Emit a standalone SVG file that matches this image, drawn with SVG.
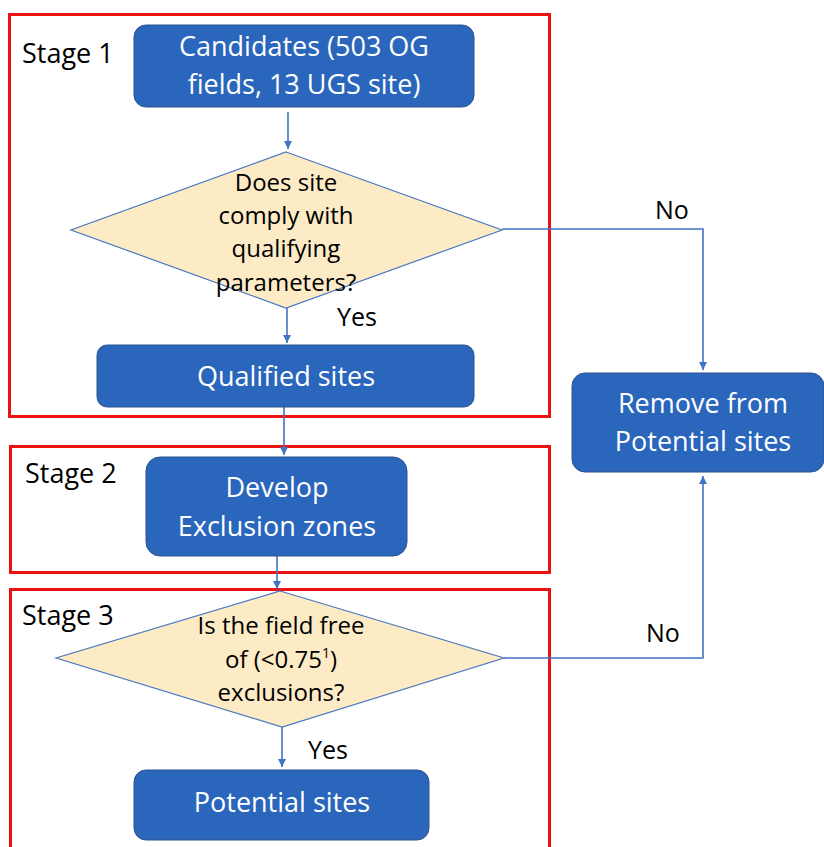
<svg xmlns="http://www.w3.org/2000/svg" width="824" height="847" viewBox="0 0 824 847">
<style>
.stage{fill:none;stroke:#EE1111;stroke-width:3}
.box{fill:#2A66BC;stroke:#2F528F;stroke-width:1}
.dia{fill:#FDEBC6;stroke:#4A78C0;stroke-width:1.2}
.wt{font-family:"Open Sans","Noto Sans",sans-serif;font-size:27px;fill:#FFFFFF;text-anchor:middle}
.bt{font-family:"Open Sans","Noto Sans",sans-serif;font-size:24px;fill:#000000;text-anchor:middle}
.lbl{font-family:"Open Sans","Noto Sans",sans-serif;font-size:25px;fill:#000000}
.stl{font-family:"Open Sans","Noto Sans",sans-serif;font-size:27px;fill:#000000}
.con{fill:none;stroke:#4472C4;stroke-width:1.6}
</style>
<defs>
<marker id="arr" markerWidth="10" markerHeight="10" refX="8" refY="4" orient="auto" markerUnits="userSpaceOnUse">
<path d="M0,0 L8,4 L0,8 Z" fill="#4472C4"/>
</marker>
</defs>
<rect width="824" height="847" fill="#FFFFFF"/>
<g id="stage1">
<rect class="stage" x="9.5" y="14.5" width="540" height="402"/>
<text class="stl" x="22" y="63">Stage 1</text>
</g>
<g id="stage2">
<rect class="stage" x="10.5" y="446.5" width="539" height="126"/>
<text class="stl" x="25" y="483">Stage 2</text>
</g>
<g id="stage3">
<rect class="stage" x="10.5" y="589.5" width="539" height="280"/>
<text class="stl" x="22" y="625">Stage 3</text>
</g>
<g id="connectors">
<path class="con" d="M288,112 L288,149" marker-end="url(#arr)"/>
<path class="con" d="M287,308 L287,343" marker-end="url(#arr)"/>
<path class="con" d="M502,229 L703,229 L703,370" marker-end="url(#arr)"/>
<path class="con" d="M284,407 L284,455" marker-end="url(#arr)"/>
<path class="con" d="M277,556 L277,589" marker-end="url(#arr)"/>
<path class="con" d="M282,727 L282,767" marker-end="url(#arr)"/>
<path class="con" d="M504,658 L703,658 L703,476" marker-end="url(#arr)"/>
<text class="lbl" x="655" y="219">No</text>
<text class="lbl" x="337" y="326">Yes</text>
<text class="lbl" x="646" y="642">No</text>
<text class="lbl" x="308" y="759">Yes</text>
</g>
<g id="candidates">
<rect class="box" x="134" y="25" width="340" height="82" rx="12"/>
<text class="wt" x="304" y="56">Candidates (503 OG</text>
<text class="wt" x="304" y="94">fields, 13 UGS site)</text>
</g>
<g id="decision1">
<polygon class="dia" points="286,152 502,230 286,308 71,230"/>
<text class="bt" x="286" y="191">Does site</text>
<text class="bt" x="286" y="224">comply with</text>
<text class="bt" x="286" y="257">qualifying</text>
<text class="bt" x="286" y="291">parameters?</text>
</g>
<g id="qualified">
<rect class="box" x="97" y="345" width="377" height="62" rx="10"/>
<text class="wt" x="286" y="386">Qualified sites</text>
</g>
<g id="develop">
<rect class="box" x="146" y="457" width="261" height="99" rx="14"/>
<text class="wt" x="277" y="497">Develop</text>
<text class="wt" x="277" y="536">Exclusion zones</text>
</g>
<g id="decision2">
<polygon class="dia" points="280,591 504,658 282,727 56,658"/>
<text class="bt" x="281" y="634">Is the field free</text>
<text class="bt" x="281" y="668">of (&lt;0.75<tspan font-size="14" dy="-10">1</tspan><tspan dy="10">)</tspan></text>
<text class="bt" x="281" y="701">exclusions?</text>
</g>
<g id="potential">
<rect class="box" x="134" y="770" width="295" height="70" rx="12"/>
<text class="wt" x="282" y="812">Potential sites</text>
</g>
<g id="remove">
<rect class="box" x="572" y="373" width="252" height="99" rx="13"/>
<text class="wt" x="703" y="413">Remove from</text>
<text class="wt" x="703" y="451">Potential sites</text>
</g>
</svg>
